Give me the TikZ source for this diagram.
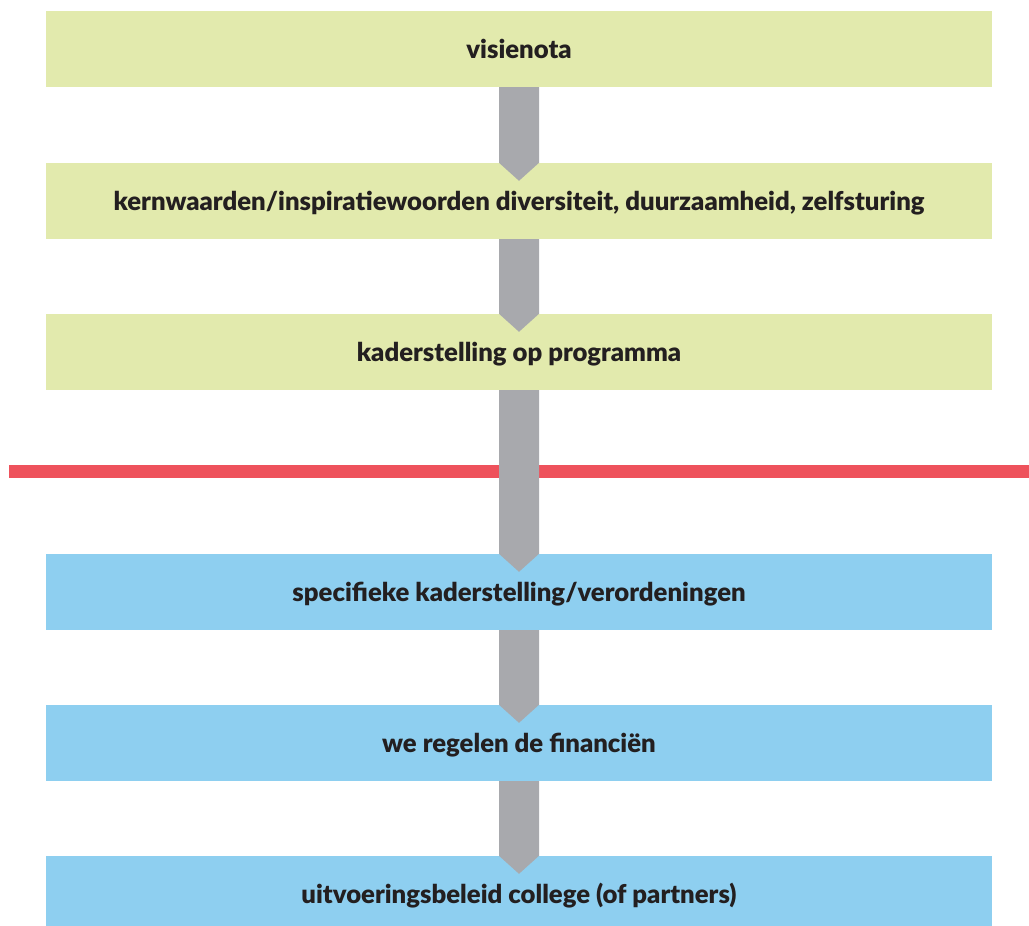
\documentclass[tikz,border=0pt]{standalone}
\usepackage{fontspec}
\setmainfont{Lato}
\newfontfamily\heavyfont{Lato Black}
\usetikzlibrary{calc}

\definecolor{boxgreen}{HTML}{E2EAAD}
\definecolor{boxblue}{HTML}{8ECFF0}
\definecolor{arrowgray}{HTML}{A8A9AD}
\definecolor{linered}{HTML}{EE525C}
\definecolor{textdark}{HTML}{231F20}

\tikzset{
  stage/.style={minimum width=946pt, minimum height=76pt, inner sep=0pt,
    text height=24pt, text depth=4.6pt,
    text=textdark, font=\heavyfont\fontsize{25.7}{30}\selectfont},
  plan/.style={stage, fill=boxgreen},
  exec/.style={stage, fill=boxblue},
}

% gray block arrow from one box down into the next
\newcommand{\flowarrow}[2]{%
  \fill[arrowgray] ($(#1.south)+(-20,0)$) -- ($(#2.north)+(-20,0)$)
    -- ($(#2.north)+(0,18)$) -- ($(#2.north)+(20,0)$)
    -- ($(#1.south)+(20,0)$) -- cycle;}

\begin{document}
\begin{tikzpicture}[x=1pt, y=-1pt]
\clip (0,0) rectangle (1029,926);
\useasboundingbox (0,0) rectangle (1029,926);

% the boxes
\node[plan] (visie)   at (519,49)  {visienota};
\node[plan] (kern)    at (519,201) {kernwaarden/inspiratiewoorden diversiteit, duurzaamheid, zelfsturing};
\node[plan] (kader)   at (519,352) {kaderstelling op programma};
\node[exec] (spec)    at (519,592) {specifieke kaderstelling/verordeningen};
\node[exec] (fin)     at (519,743) {we regelen de financiën};
\node[exec] (uitv)    at (519,894) {uitvoeringsbeleid college (of partners)};

% dividing line
\coordinate (lineL) at (9,471.5);
\coordinate (lineR) at (1029,471.5);
\draw[linered, line width=13pt] (lineL) -- (lineR);

% arrows
\flowarrow{visie}{kern}
\flowarrow{kern}{kader}
\flowarrow{kader}{spec}
\flowarrow{spec}{fin}
\flowarrow{fin}{uitv}

\end{tikzpicture}
\end{document}
